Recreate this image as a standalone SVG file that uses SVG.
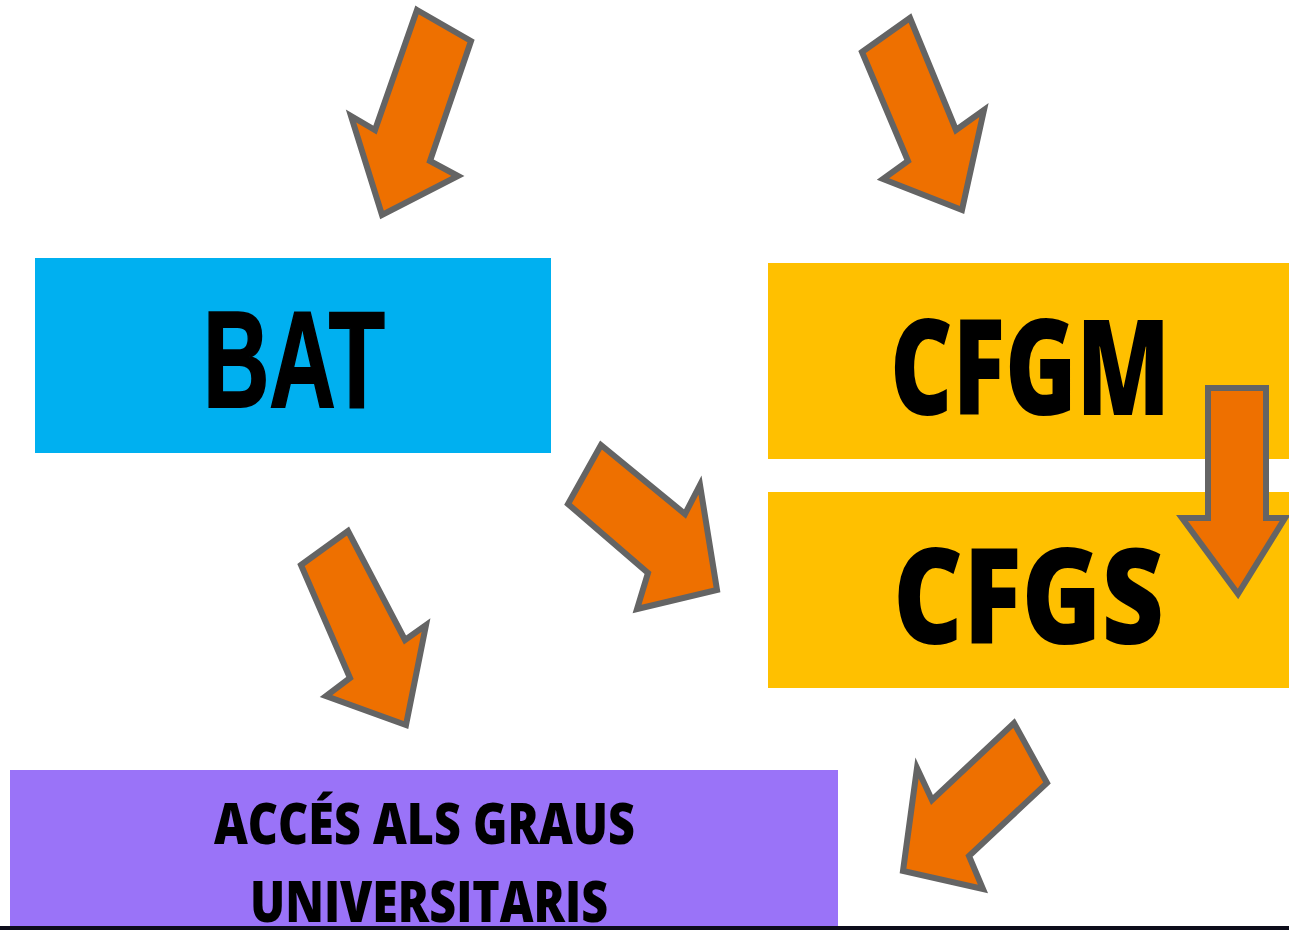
<svg xmlns="http://www.w3.org/2000/svg" width="1289" height="930" viewBox="0 0 1289 930">
<style>
.arrow{fill:#EE7000;stroke:#646464;stroke-width:6;stroke-linejoin:miter}
.lbl{font-family:"Open Sans","Noto Sans","DejaVu Sans",sans-serif;font-weight:800;fill:#000}
</style>
<rect width="1289" height="930" fill="#ffffff"/>
<g id="node-bat">
<rect x="35" y="258" width="516" height="195" fill="#00B0F0"/>
<text x="203" y="407" font-family="'Liberation Sans',Arial,sans-serif" font-weight="700" font-size="137" textLength="182" lengthAdjust="spacingAndGlyphs" fill="#000" stroke="#000" stroke-width="2">BAT</text>
</g>
<g id="node-cfgm">
<rect x="768" y="263" width="521" height="196" fill="#FFC000"/>
<text class="lbl" x="890" y="415" font-size="133" textLength="280" lengthAdjust="spacingAndGlyphs">CFGM</text>
</g>
<g id="node-cfgs">
<rect x="768" y="492" width="521" height="196" fill="#FFC000"/>
<text class="lbl" x="893" y="644" font-size="133" textLength="271" lengthAdjust="spacingAndGlyphs">CFGS</text>
</g>
<g id="node-acces">
<rect x="10" y="770" width="828" height="160" fill="#9A73F8"/>
<text class="lbl" x="214" y="844" font-size="56" textLength="421" lengthAdjust="spacingAndGlyphs">ACCÉS ALS GRAUS</text>
<text class="lbl" x="250" y="922" font-size="56" textLength="358" lengthAdjust="spacingAndGlyphs">UNIVERSITARIS</text>
</g>
<g id="connectors">
<polygon class="arrow" points="417,10 471,41 430,161 458,176 382,215 351,116 375,130"/>
<polygon class="arrow" points="862,52 910,18 956,130 984,110 962,210 883,179 908,161"/>
<polygon class="arrow" points="601,445 568,504 648,573 637,609 717,590 700,485 685,514"/>
<polygon class="arrow" points="301,565 348,531 405,640 426,625 406,725 326,696 350,678"/>
<polygon class="arrow" points="1014,723 1047,783 969,856 983,889 903,871 917,768 932,800"/>
<polygon class="arrow" points="1208,388 1266,388 1266,518 1285,518 1238,594 1182,518 1208,518"/>
</g>
<rect x="0" y="926" width="1289" height="4" fill="#0d0d1a"/>
</svg>
